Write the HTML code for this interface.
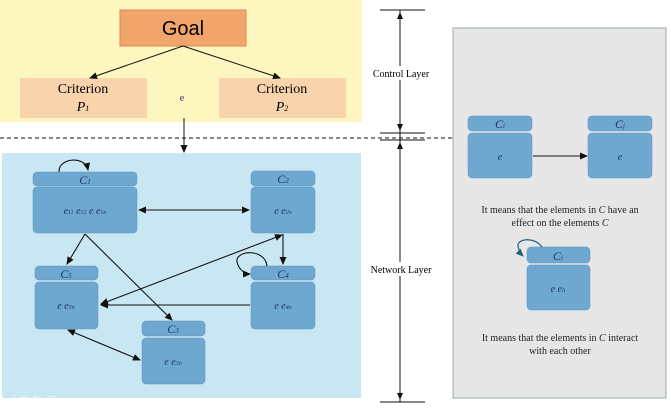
<!DOCTYPE html>
<html><head><style>body{margin:0;background:#fff}svg{display:block}text{font-family:"Liberation Serif",serif}</style></head><body>
<svg width="671" height="412" xmlns="http://www.w3.org/2000/svg">
<defs><marker id="a" markerWidth="8" markerHeight="8" refX="7" refY="4" orient="auto-start-reverse" markerUnits="userSpaceOnUse"><path d="M0,0.5 L8,4 L0,7.5z" fill="#111"/></marker>
<marker id="b" markerWidth="8" markerHeight="8" refX="7" refY="4" orient="auto" markerUnits="userSpaceOnUse"><path d="M0,0.5 L8,4 L0,7.5z" fill="#1f5f80"/></marker></defs>
<rect x="0" y="0" width="362" height="122" fill="#fdf6bf"/>
<rect x="120" y="10" width="126" height="36" fill="#f2a56a" stroke="#d88a4a"/>
<text x="183" y="35" font-family="Liberation Sans" font-size="20" text-anchor="middle" style="font-family:'Liberation Sans',sans-serif">Goal</text>
<rect x="20" y="78" width="127" height="40" fill="#f9d3ac"/>
<rect x="219" y="78" width="127" height="40" fill="#f9d3ac"/>
<text x="83" y="93" font-size="14" text-anchor="middle">Criterion</text>
<text x="83" y="111" font-size="14" text-anchor="middle" font-style="italic">P<tspan font-size="8">1</tspan></text>
<text x="282" y="93" font-size="14" text-anchor="middle">Criterion</text>
<text x="282" y="111" font-size="14" text-anchor="middle" font-style="italic">P<tspan font-size="8">2</tspan></text>
<text x="182" y="101" font-size="10" text-anchor="middle" fill="#335">e</text>
<line x1="183" y1="46" x2="90" y2="78" stroke="#111" marker-end="url(#a)"/>
<line x1="183" y1="46" x2="280" y2="78" stroke="#111" marker-end="url(#a)"/>
<line x1="184" y1="118" x2="184" y2="152" stroke="#111" marker-end="url(#a)"/>
<line x1="0" y1="138" x2="452" y2="138" stroke="#111" stroke-dasharray="4,3"/>
<rect x="2" y="153" width="359" height="245" fill="#c9e7f2"/>
<rect x="453" y="28" width="213" height="370" fill="#e6e6e6" stroke="#9aa" />
<line x1="400" y1="10" x2="400" y2="402" stroke="#111"/>
<line x1="380" y1="10" x2="425" y2="10" stroke="#111"/>
<line x1="380" y1="133" x2="425" y2="133" stroke="#111"/>
<line x1="380" y1="140" x2="425" y2="140" stroke="#111"/>
<line x1="380" y1="402" x2="425" y2="402" stroke="#111"/>
<path d="M400,12 l-3,7 h6z M400,131 l-3,-7 h6z M400,142 l-3,7 h6z M400,400 l-3,-7 h6z" fill="#111"/>
<rect x="369" y="66" width="62" height="14" fill="#fff"/>
<text x="401" y="77" font-size="10" text-anchor="middle">Control Layer</text>
<rect x="367" y="262" width="66" height="14" fill="#fff"/>
<text x="401" y="273" font-size="10" text-anchor="middle">Network Layer</text>
<g fill="#6ea7d0" stroke="#5b93bd" stroke-width="0.5">
<rect x="33" y="172" width="104" height="14" rx="4"/><rect x="33" y="187" width="104" height="46" rx="4"/>
<rect x="251" y="171" width="64" height="15" rx="4"/><rect x="251" y="187" width="64" height="46" rx="4"/>
<rect x="35" y="266" width="63" height="14" rx="4"/><rect x="35" y="282" width="63" height="47" rx="4"/>
<rect x="251" y="266" width="64" height="14" rx="4"/><rect x="251" y="282" width="64" height="47" rx="4"/>
<rect x="142" y="321" width="63" height="15" rx="4"/><rect x="142" y="338" width="63" height="46" rx="4"/>
<rect x="468" y="116" width="64" height="15" rx="4"/><rect x="468" y="133" width="64" height="45" rx="4"/>
<rect x="588" y="116" width="64" height="15" rx="4"/><rect x="588" y="133" width="64" height="45" rx="4"/>
<rect x="527" y="247" width="63" height="16" rx="4"/><rect x="527" y="265" width="63" height="45" rx="4"/>
</g>
<g font-style="italic" fill="#1e3a66" text-anchor="middle">
<text x="85" y="184" font-size="12">C<tspan font-size="7">1</tspan></text>
<text x="85" y="214" font-size="10">e<tspan font-size="6">11</tspan> e<tspan font-size="6">12</tspan> e   e<tspan font-size="6">1n</tspan></text>
<text x="283" y="183" font-size="12">C<tspan font-size="7">2</tspan></text>
<text x="283" y="214" font-size="10">e   e<tspan font-size="6">2n</tspan></text>
<text x="66" y="278" font-size="12">C<tspan font-size="7">5</tspan></text>
<text x="66" y="309" font-size="10">e   e<tspan font-size="6">5n</tspan></text>
<text x="283" y="278" font-size="12">C<tspan font-size="7">4</tspan></text>
<text x="283" y="309" font-size="10">e   e<tspan font-size="6">4n</tspan></text>
<text x="173" y="333" font-size="12">C<tspan font-size="7">3</tspan></text>
<text x="173" y="365" font-size="10">e   e<tspan font-size="6">3n</tspan></text>
<text x="500" y="128" font-size="12">C<tspan font-size="7">i</tspan></text>
<text x="500" y="160" font-size="10">e</text>
<text x="620" y="128" font-size="12">C<tspan font-size="7">j</tspan></text>
<text x="620" y="160" font-size="10">e</text>
<text x="558" y="260" font-size="12">C<tspan font-size="7">i</tspan></text>
<text x="558" y="292" font-size="10">e  e<tspan font-size="6">ii</tspan></text>
</g>
<g stroke="#111" fill="none" stroke-width="1.1">
<line x1="139" y1="210" x2="249" y2="210" marker-start="url(#a)" marker-end="url(#a)"/>
<line x1="85" y1="234" x2="67" y2="264" marker-end="url(#a)"/>
<line x1="85" y1="234" x2="172" y2="320" marker-end="url(#a)"/>
<line x1="283" y1="234" x2="283" y2="264" marker-end="url(#a)"/>
<line x1="250" y1="305" x2="101" y2="305" marker-end="url(#a)"/>
<line x1="101" y1="304" x2="282" y2="235" marker-start="url(#a)" marker-end="url(#a)"/>
<line x1="68" y1="330" x2="140" y2="360" marker-start="url(#a)" marker-end="url(#a)"/>
<path d="M59,172 C58,158 85,155 88,170" marker-end="url(#a)"/>
<path d="M267,266 C265,248 235,250 237,262 C239,270 245,274 250,274" marker-end="url(#a)"/>
<line x1="533" y1="156" x2="587" y2="156" marker-end="url(#a)"/>
</g>
<path d="M542,247 C534,236 517,239 518,246 C519,251 521,254 523,256" stroke="#1f5f80" stroke-width="1.2" fill="none" marker-end="url(#b)"/>
<g font-size="10" text-anchor="middle" fill="#222">
<text x="560" y="213">It means that the elements in <tspan font-style="italic">C</tspan> have an</text>
<text x="560" y="226">effect on the elements <tspan font-style="italic">C</tspan></text>
<text x="560" y="341">It means that the elements in <tspan font-style="italic">C</tspan> interact</text>
<text x="560" y="354">with each other</text>
</g>
<text x="8" y="406" font-size="12" fill="#fff" opacity="0.8" style="font-family:'Liberation Sans','Noto Sans CJK SC',sans-serif">大欧数据</text>
</svg>
</body></html>
